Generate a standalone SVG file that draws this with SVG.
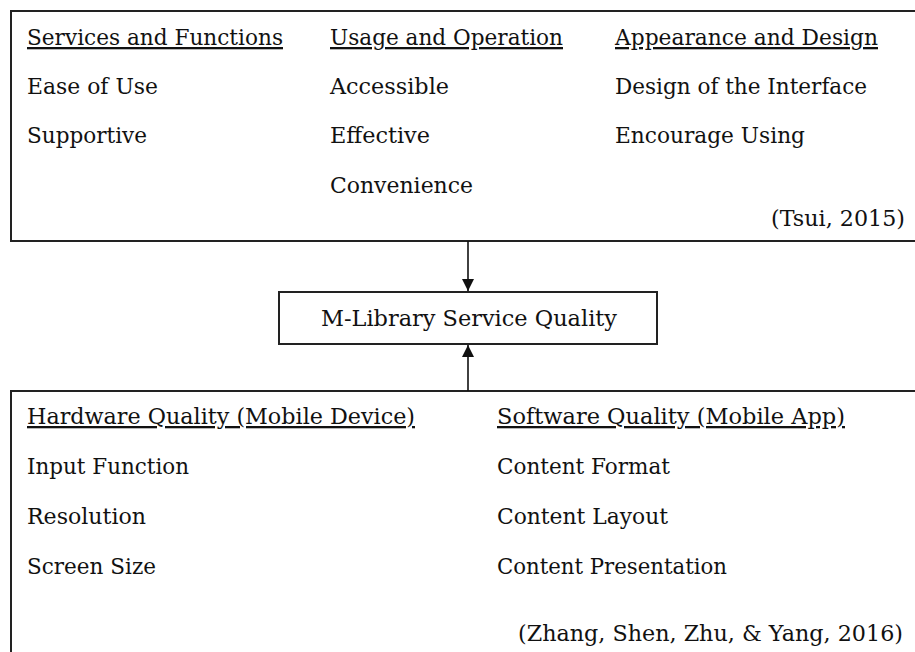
<svg xmlns="http://www.w3.org/2000/svg" width="915" height="652" viewBox="0 0 915 652">
<style>
text{font-family:'DejaVu Serif','Liberation Serif',serif;font-size:23px;fill:#111}
.h{text-decoration:underline}
.box{fill:#fff;stroke:#222;stroke-width:2}
.con{stroke:#111;stroke-width:1.6;fill:none}
</style>
<defs>
<marker id="ah" viewBox="0 0 12 12" refX="12" refY="6" markerWidth="12" markerHeight="12" markerUnits="userSpaceOnUse" orient="auto">
<path d="M0,0 L12,6 L0,12 Z" fill="#111"/>
</marker>
</defs>
<rect width="915" height="652" fill="#fff"/>
<g id="tsui">
<rect class="box" x="11" y="11" width="920" height="230"/>
<text class="h" x="27" y="45" textLength="256" lengthAdjust="spacingAndGlyphs">Services and Functions</text>
<text x="27" y="94" textLength="131" lengthAdjust="spacingAndGlyphs">Ease of Use</text>
<text x="27" y="143" textLength="120" lengthAdjust="spacingAndGlyphs">Supportive</text>
<text class="h" x="330" y="45" textLength="233" lengthAdjust="spacingAndGlyphs">Usage and Operation</text>
<text x="330" y="94" textLength="119" lengthAdjust="spacingAndGlyphs">Accessible</text>
<text x="330" y="143" textLength="100" lengthAdjust="spacingAndGlyphs">Effective</text>
<text x="330" y="193" textLength="143" lengthAdjust="spacingAndGlyphs">Convenience</text>
<text class="h" x="615" y="45" textLength="263" lengthAdjust="spacingAndGlyphs">Appearance and Design</text>
<text x="615" y="94" textLength="252" lengthAdjust="spacingAndGlyphs">Design of the Interface</text>
<text x="615" y="143" textLength="190" lengthAdjust="spacingAndGlyphs">Encourage Using</text>
<text x="771" y="226" textLength="134" lengthAdjust="spacingAndGlyphs">(Tsui, 2015)</text>
</g>
<g id="mlibrary">
<rect class="box" x="279" y="292" width="378" height="52" stroke-width="1.6"/>
<text x="321" y="326" textLength="296" lengthAdjust="spacingAndGlyphs">M-Library Service Quality</text>
</g>
<g id="zhang">
<rect class="box" x="11" y="391" width="920" height="280"/>
<text class="h" x="27" y="424" textLength="388" lengthAdjust="spacingAndGlyphs">Hardware Quality (Mobile Device)</text>
<text x="27" y="474" textLength="162" lengthAdjust="spacingAndGlyphs">Input Function</text>
<text x="27" y="524" textLength="119" lengthAdjust="spacingAndGlyphs">Resolution</text>
<text x="27" y="574" textLength="129" lengthAdjust="spacingAndGlyphs">Screen Size</text>
<text class="h" x="497" y="424" textLength="348" lengthAdjust="spacingAndGlyphs">Software Quality (Mobile App)</text>
<text x="497" y="474" textLength="173" lengthAdjust="spacingAndGlyphs">Content Format</text>
<text x="497" y="524" textLength="171" lengthAdjust="spacingAndGlyphs">Content Layout</text>
<text x="497" y="574" textLength="230" lengthAdjust="spacingAndGlyphs">Content Presentation</text>
<text x="518" y="641" textLength="385" lengthAdjust="spacingAndGlyphs">(Zhang, Shen, Zhu, &amp; Yang, 2016)</text>
</g>
<g id="connectors">
<line class="con" x1="468" y1="241" x2="468" y2="291" marker-end="url(#ah)"/>
<line class="con" x1="468" y1="391" x2="468" y2="345" marker-end="url(#ah)"/>
</g>
</svg>
